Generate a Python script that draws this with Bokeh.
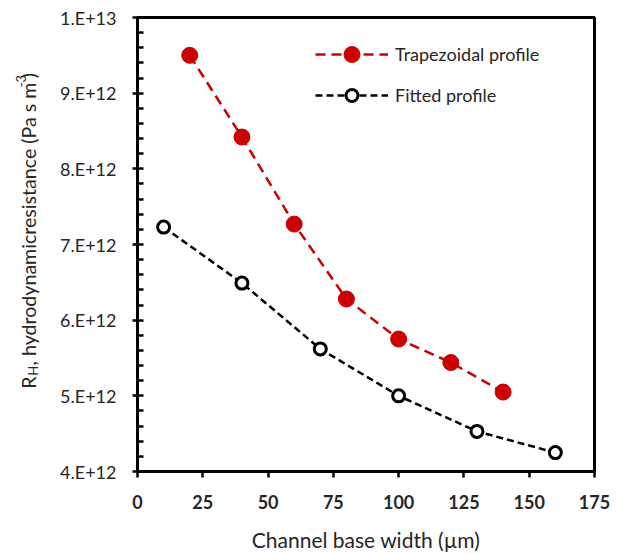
import math
from bokeh.plotting import figure
from bokeh.layouts import row
from bokeh.models import Range1d, FixedTicker, Legend, LegendItem
from bokeh.core.properties import value
from bokeh.embed import file_html
from bokeh.resources import INLINE

# ---- data ----
trap_x = [20, 40, 60, 80, 100, 120, 140]
trap_y = [9.50e12, 8.42e12, 7.27e12, 6.28e12, 5.75e12, 5.44e12, 5.05e12]
fit_x = [10, 40, 70, 100, 130, 160]
fit_y = [7.23e12, 6.49e12, 5.62e12, 5.00e12, 4.53e12, 4.25e12]
x_ticks = [0, 25, 50, 75, 100, 125, 150, 175]
y_ticks = [4e12, 5e12, 6e12, 7e12, 8e12, 9e12, 1e13]
y_tick_labels = ["4.E+12", "5.E+12", "6.E+12", "7.E+12", "8.E+12", "9.E+12", "1.E+13"]
y_minor = [4e12 + i * 2e11 for i in range(31)]
series_names = ["Trapezoidal profile", "Fitted profile"]
x_title = "Channel base width (µm)"
y_title_parts = ["R", "H", ", hydrodynamicresistance (Pa s m", "-3", ")"]

# ---- layout ----
W, H = 621, 554
TW = 44                      # width of the strip holding the y-axis title
L, R, T, B = 137 - TW, 27, 17, 82
X0, X1 = 0, 175
Y0, Y1 = 4e12, 1e13
FONT = "Lato"
TXT = "#262626"
RED = "#CC0000"

p = figure(width=W - TW, height=H, output_backend="svg", toolbar_location=None,
           x_range=Range1d(X0, X1), y_range=Range1d(Y0, Y1),
           min_border_left=L, min_border_right=R, min_border_top=T, min_border_bottom=B)
p.background_fill_color = "white"
p.border_fill_color = "white"
p.outline_line_color = "black"
p.outline_line_width = 3
p.xgrid.visible = False
p.ygrid.visible = False

xa = p.xaxis[0]
xa.ticker = FixedTicker(ticks=x_ticks, minor_ticks=[])
xa.axis_line_width = 3
xa.major_tick_line_width = 2.5
xa.major_tick_out = 6
xa.major_tick_in = 0
xa.minor_tick_line_color = None
xa.major_label_text_font = FONT
xa.major_label_text_font_size = "18px"
xa.major_label_text_font_style = "bold"
xa.major_label_text_color = TXT
xa.major_label_standoff = 17
xa.axis_label = x_title
xa.axis_label_text_font = FONT
xa.axis_label_text_font_size = "21px"
xa.axis_label_text_font_style = "normal"
xa.axis_label_text_color = TXT
xa.axis_label_standoff = 15

ya = p.yaxis[0]
ya.ticker = FixedTicker(ticks=y_ticks, minor_ticks=y_minor)
ya.major_label_overrides = {int(v): s for v, s in zip(y_ticks, y_tick_labels)}
ya.axis_line_width = 3
ya.major_tick_line_width = 2.5
ya.major_tick_out = 5
ya.major_tick_in = 0
ya.minor_tick_line_width = 2.5
ya.minor_tick_in = 6
ya.minor_tick_out = 0
ya.major_label_text_font = FONT
ya.major_label_text_font_size = "18px"
ya.major_label_text_color = TXT
ya.major_label_standoff = 16

# ---- series ----
r1 = p.line(trap_x, trap_y, line_color=RED, line_width=2.5, line_dash="10 6")
r2 = p.scatter(trap_x, trap_y, marker="circle", size=16, fill_color=RED, line_color=RED)
r3 = p.line(fit_x, fit_y, line_color="black", line_width=2.5, line_dash="7 4")
r4 = p.scatter(fit_x, fit_y, marker="circle", size=12, fill_color="white",
               line_color="black", line_width=3)

def mk_legend(items, gh, loc):
    lg = Legend(items=items, location=loc, glyph_width=73, glyph_height=gh,
                label_standoff=7, label_text_font=FONT, label_text_font_size="18px",
                label_text_color=TXT, padding=0, margin=0, spacing=0,
                border_line_color=None, background_fill_alpha=0)
    p.add_layout(lg)

mk_legend([LegendItem(label=series_names[0], renderers=[r1, r2])], 40, (178, 397))
mk_legend([LegendItem(label=series_names[1], renderers=[r3, r4])], 30, (178, 361))

# ---- strip on the left with the rotated y-axis title ----
# its frame shares the main frame's vertical extent; data units = canvas pixels from the bottom
t = figure(width=TW, height=H, output_backend="svg", toolbar_location=None,
           x_range=Range1d(0, TW), y_range=Range1d(B, H - T),
           x_axis_location=None, y_axis_location=None,
           min_border_left=0, min_border_right=0, min_border_top=T, min_border_bottom=B)
t.outline_line_color = None
t.xgrid.visible = False
t.ygrid.visible = False
t.background_fill_color = "white"
t.border_fill_color = "white"

def add_txt(text, px, py, size, align="left"):
    t.text(x=[px], y=[H - py], text=[text], angle=math.pi / 2,
           text_align=align, text_baseline="alphabetic",
           text_font=value(FONT), text_font_size=value(size), text_color=TXT)

BX = 28
add_txt(y_title_parts[0], BX, 389, "19.6px")
add_txt(y_title_parts[1], BX + 4, 376, "13px")
add_txt(y_title_parts[2], BX, 224, "19.6px", align="center")
add_txt(y_title_parts[3], BX - 8, 87, "13px")
add_txt(y_title_parts[4], BX, 78, "19.6px")

layout = row(t, p, spacing=0)
open("out.html", "w").write(file_html(layout, INLINE))
